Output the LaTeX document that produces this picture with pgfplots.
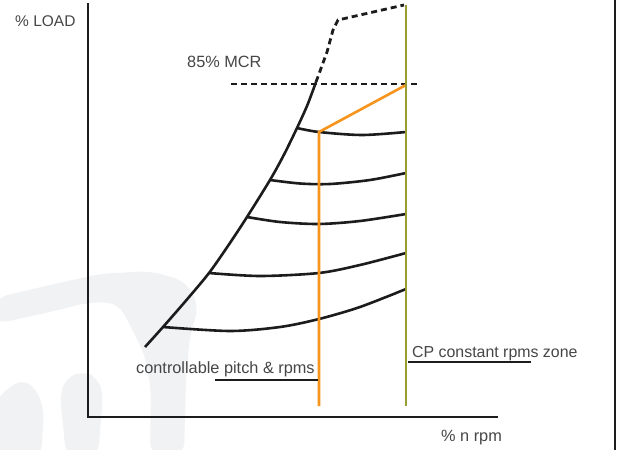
\documentclass[border=0pt]{standalone}
\usepackage{pgfplots}
\pgfplotsset{compat=1.18}
\usepackage{fontspec}
\setmainfont{Liberation Sans}
\definecolor{cporange}{RGB}{247,148,30}
\definecolor{cpgreen}{RGB}{153,158,52}
\definecolor{wm}{RGB}{241,242,243}
\definecolor{txt}{RGB}{70,70,70}
\definecolor{ink}{RGB}{28,28,28}
\begin{document}
\begin{tikzpicture}
\begin{axis}[
  width=619pt, height=450pt, scale only axis,
  xmin=0, xmax=619, ymin=0, ymax=450, y dir=reverse,
  axis line style={draw=none}, xtick=\empty, ytick=\empty,
  axis background/.style={fill=white},
]
% watermark shapes
\addplot[fill=wm, draw=none, rounded corners=12pt] coordinates {(-5,298) (50,285) (100,274) (150,271) (185,281) (199,305) (190,335) (186,380) (184,455) (150,455) (151,390) (145,355) (130,325) (118,303) (90,302) (50,312) (-5,324)} -- cycle;
\addplot[fill=wm, draw=none, rounded corners=8pt] coordinates {(-5,402) (10,386) (25,380) (38,392) (44,412) (41,455) (-5,455)} -- cycle;
\addplot[fill=wm, draw=none, rounded corners=10pt] coordinates {(60,395) (66,378) (83,371) (98,378) (103,395) (98,455) (66,455)} -- cycle;
% frame
\addplot[ink, line width=2.8pt] coordinates {(88,3) (88,417) (498,417)};
\addplot[ink, line width=2.4pt] coordinates {(615,-2) (615,452)};
% envelope
\addplot[ink, line width=2.6pt, smooth] coordinates {(145,347) (163,327) (186.5,300) (209,273) (228.6,245) (247,217) (270,180) (283.8,155) (297,128) (307.4,105) (316,82)};
\addplot[ink, line width=2.8pt, dash pattern=on 6pt off 4pt] coordinates {(316,82) (327,52) (333,30) (338,20) (404,5)};
\addplot[ink, line width=2.8pt, dash pattern=on 6pt off 4pt] coordinates {(231,84) (417,84)};
% propeller curves
\addplot[ink, line width=2.6pt, smooth] coordinates {(297,128) (319,132) (362,135) (406,132)};
\addplot[ink, line width=2.6pt, smooth] coordinates {(270,180) (300,183.5) (330,184) (370,180) (406,173)};
\addplot[ink, line width=2.6pt, smooth] coordinates {(247,217) (280,222) (319,224) (360,221) (406,214)};
\addplot[ink, line width=2.6pt, smooth] coordinates {(209,273) (260,276) (319,273) (360,265) (406,253)};
\addplot[ink, line width=2.6pt, smooth] coordinates {(163,327) (230,331) (280,327) (319,319) (360,307) (406,289)};
% orange and green
\addplot[cporange, line width=2.6pt] coordinates {(319,406) (319,132) (406,85)};
\addplot[cpgreen, line width=2.6pt] coordinates {(406,5) (406,406)};
% underlines
\addplot[ink, line width=2.6pt] coordinates {(215,380) (318,380)};
\addplot[ink, line width=2.6pt] coordinates {(408,362) (531,362)};
% labels
\node[anchor=base west, inner sep=0pt, text=txt, font=\fontsize{15.5}{18}\selectfont] at (axis cs:15,26) {\% LOAD};
\node[anchor=base west, inner sep=0pt, text=txt, font=\fontsize{16.3}{18}\selectfont] at (axis cs:187,67) {85\% MCR};
\node[anchor=base west, inner sep=0pt, text=txt, font=\fontsize{16.3}{18}\selectfont] at (axis cs:136,373) {controllable pitch \& rpms};
\node[anchor=base west, inner sep=0pt, text=txt, font=\fontsize{15.9}{18}\selectfont] at (axis cs:412,357) {CP constant rpms zone};
\node[anchor=base west, inner sep=0pt, text=txt, font=\fontsize{16.3}{18}\selectfont] at (axis cs:441,441) {\% n rpm};
\end{axis}
\end{tikzpicture}
\end{document}
